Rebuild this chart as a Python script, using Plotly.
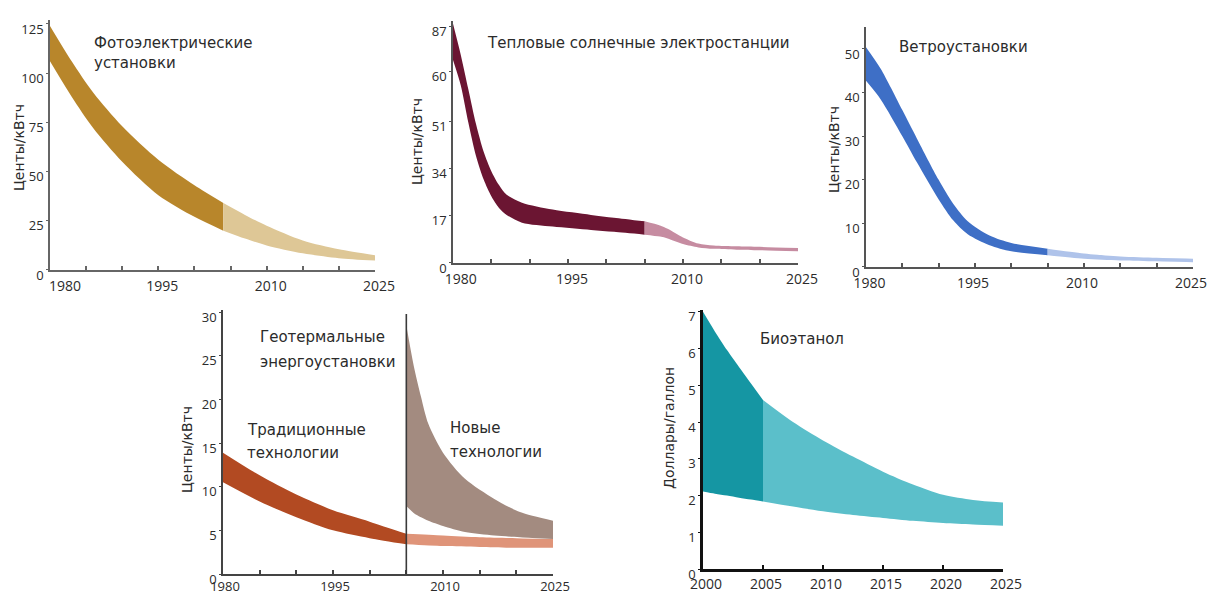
import plotly.graph_objects as go

FONT = "Open Sans"
LFONT = "DejaVu Sans"
TXT = "#2b2b2b"

# ---------------- data ----------------
# Panel 1: Фотоэлектрические установки (центы/кВтч)
pv_hist_years = [1980, 1983, 1986, 1990, 1995, 2000, 2004]
pv_hist_upper = [124, 106, 90, 73, 56, 43, 34]
pv_hist_lower = [106, 88, 72, 55, 38, 27, 20]
pv_proj_years = [2004, 2007, 2010, 2015, 2020, 2025]
pv_proj_upper = [34, 28, 22.5, 15, 10.5, 7.5]
pv_proj_lower = [20, 16, 12.5, 8.5, 6, 4.8]

# Panel 2: Тепловые солнечные электростанции
csp_hist_years = [1980, 1981, 1982, 1983, 1984, 1985, 1986, 1987, 1989, 1993, 1998, 2001, 2005]
csp_hist_upper = [86, 75, 62.5, 50, 40, 33, 28, 24.5, 21.7, 19.2, 17.3, 16.3, 15]
csp_hist_lower = [73, 64, 50.5, 38.5, 30, 24, 19.8, 17.3, 14.5, 13.1, 11.9, 11.2, 10.2]
csp_proj_years = [2005, 2007, 2008, 2010, 2012, 2014, 2017, 2020, 2025]
csp_proj_upper = [15, 13.5, 12.3, 9.2, 7.0, 6.3, 6.0, 5.8, 5.4]
csp_proj_lower = [10.2, 9.5, 8.8, 6.8, 5.6, 5.1, 4.8, 4.6, 4.2]
csp_tick_vals = [0, 17, 34, 51, 69, 85]
csp_tick_text = ["0", "17", "34", "51", "60", "87"]

# Panel 3: Ветроустановки
wind_hist_years = [1980, 1982, 1985, 1987, 1990, 1992, 1994, 1997, 2000, 2005]
wind_hist_upper = [50.4, 45.5, 36, 29.5, 20, 14.5, 10.5, 7.2, 5.5, 4.2]
wind_hist_lower = [42.7, 38.5, 30, 24, 15.5, 10.7, 7.5, 5, 3.6, 2.7]
wind_proj_years = [2005, 2010, 2015, 2020, 2025]
wind_proj_upper = [4.2, 3.1, 2.4, 2.1, 1.9]
wind_proj_lower = [2.7, 1.9, 1.5, 1.3, 1.1]

# Panel 4: Геотермальные энергоустановки
geo_trad_years = [1980, 1985, 1990, 1995, 2000, 2005]
geo_trad_upper = [13.9, 11.3, 9.1, 7.3, 6.0, 4.6]
geo_trad_lower = [10.5, 8.3, 6.5, 5.0, 4.1, 3.4]
geo_trad_proj_years = [2005, 2010, 2015, 2020, 2025]
geo_trad_proj_upper = [4.6, 4.4, 4.2, 4.1, 4.0]
geo_trad_proj_lower = [3.4, 3.2, 3.1, 3.0, 3.0]
geo_new_years = [2005, 2006, 2007, 2008, 2010, 2013, 2017, 2020.5, 2025]
geo_new_upper = [28.5, 23.9, 20.3, 17.2, 13.9, 10.9, 8.6, 7.1, 6.1]
geo_new_lower = [7.8, 7.0, 6.5, 6.1, 5.5, 4.8, 4.4, 4.2, 4.0]
geo_split_year = [2005, 2005]
geo_split_vals = [0, 29.8]

# Panel 5: Биоэтанол (доллары/галлон)
eth_hist_years = [2000, 2001, 2002, 2003, 2004, 2005]
eth_hist_upper = [7.0, 6.46, 5.96, 5.5, 5.05, 4.6]
eth_hist_lower = [2.11, 2.05, 2.0, 1.94, 1.89, 1.84]
eth_proj_years = [2005, 2007.5, 2010, 2012.5, 2015, 2017.5, 2020, 2022.5, 2025]
eth_proj_upper = [4.6, 4.0, 3.5, 3.06, 2.65, 2.3, 2.02, 1.88, 1.81]
eth_proj_lower = [1.84, 1.7, 1.57, 1.47, 1.39, 1.31, 1.25, 1.21, 1.18]

x_ticks_long = [1980, 1995, 2010, 2025]
x_text_long = ["\u00a0" * 6 + "1980", "1995", "2010", "2025"]
x_text_mid = ["\u00a0\u00a0" + "1980", "1995", "2010", "2025"]
x_text_wind = ["\u00a0\u00a0\u00a0" + "1980", "1995", "2010", "2025"]
x_text_plain = ["1980", "1995", "2010", "2025"]
x_ticks_eth = [2000, 2005, 2010, 2015, 2020, 2025]


def band(years, upper, lower, color, xa, ya):
    common = dict(x=years, mode="lines", xaxis=xa, yaxis=ya, showlegend=False,
                  hoverinfo="skip",
                  line=dict(width=0, shape="spline", smoothing=0.8))
    return [go.Scatter(y=lower, **common),
            go.Scatter(y=upper, fill="tonexty", fillcolor=color, **common)]


traces = []
traces += band(pv_hist_years, pv_hist_upper, pv_hist_lower, "#B8862B", "x", "y")
traces += band(pv_proj_years, pv_proj_upper, pv_proj_lower, "#DEC796", "x", "y")
traces += band(csp_hist_years, csp_hist_upper, csp_hist_lower, "#6B1532", "x2", "y2")
traces += band(csp_proj_years, csp_proj_upper, csp_proj_lower, "#C68CA1", "x2", "y2")
traces += band(wind_hist_years, wind_hist_upper, wind_hist_lower, "#3E6FC6", "x3", "y3")
traces += band(wind_proj_years, wind_proj_upper, wind_proj_lower, "#AFC3EA", "x3", "y3")
traces += band(geo_trad_years, geo_trad_upper, geo_trad_lower, "#B24A22", "x4", "y4")
traces += band(geo_trad_proj_years, geo_trad_proj_upper, geo_trad_proj_lower, "#DF9479", "x4", "y4")
traces += band(geo_new_years, geo_new_upper, geo_new_lower, "#A38B80", "x4", "y4")
traces.append(go.Scatter(x=geo_split_year, y=geo_split_vals, mode="lines", xaxis="x4", yaxis="y4",
                         line=dict(color="#3a3a3a", width=1.6), showlegend=False, hoverinfo="skip"))
traces += band(eth_hist_years, eth_hist_upper, eth_hist_lower, "#1596A3", "x5", "y5")
traces += band(eth_proj_years, eth_proj_upper, eth_proj_lower, "#5BBFCA", "x5", "y5")

fig = go.Figure(traces)


def xax(domain, anchor, rng, tickvals, ticktext, lc, lw, tick0, shift=4, standoff=1, fsize=14):
    return dict(domain=domain, anchor=anchor, range=rng, tickmode="array",
                tickvals=tickvals, ticktext=ticktext, ticks="inside", ticklen=4,
                tickcolor=lc, tickwidth=1.5, showline=True, linecolor=lc, linewidth=lw,
                showgrid=False, zeroline=False, layer="below traces", automargin=False,
                tickfont=dict(family=FONT, size=fsize, color=TXT), ticklabelshift=shift,
                ticklabelstandoff=standoff, ticklabeloverflow="allow",
                minor=dict(dtick=5, tick0=tick0, ticks="inside", ticklen=4, tickcolor=lc, tickwidth=1.5),
                fixedrange=True)


def yax(domain, anchor, rng, tickvals, ticktext, lc, lw):
    return dict(domain=domain, anchor=anchor, range=rng, tickmode="array",
                tickvals=tickvals, ticktext=ticktext, ticks="outside", ticklen=2,
                tickcolor=lc, showline=True, linecolor=lc, linewidth=lw,
                showgrid=False, zeroline=False, layer="below traces", automargin=False,
                tickfont=dict(family=FONT, size=13, color=TXT), ticklabelshift=5,
                ticklabeloverflow="allow",
                fixedrange=True)


fig.update_layout(
    template="none",
    width=1208, height=594, margin=dict(l=0, r=0, t=0, b=0, pad=0, autoexpand=False),
    paper_bgcolor="white", plot_bgcolor="rgba(0,0,0,0)",
    font=dict(family=FONT, color=TXT),
    showlegend=False,
    xaxis=xax([0.04139, 0.31043], "y", [1980, 2025], x_ticks_long, x_text_long, "#666666", 1.5, 1980,
              standoff=2),
    yaxis=yax([0.54545, 0.96633], "x", [0, 127], [0, 25, 50, 75, 100, 125],
              ["0", "25", "50", "75", "100", "125"], "#666666", 1.5),
    xaxis2=xax([0.37500, 0.66060], "y2", [1980, 2025], x_ticks_long, x_text_mid, "#555555", 1.5, 1980,
               standoff=2),
    yaxis2=yax([0.55724, 0.96465], "x2", [0, 87], csp_tick_vals, csp_tick_text, "#555555", 1.5),
    xaxis3=xax([0.71689, 0.98758], "y3", [1980, 2025], x_ticks_long, x_text_wind, "#555555", 1.5, 1980,
               shift=-2, standoff=2),
    yaxis3=yax([0.55051, 0.95421], "x3", [0, 55], [0, 10, 20, 30, 40, 50],
               ["0", "10", "20", "30", "40", "50"], "#555555", 1.5),
    xaxis4=xax([0.18460, 0.45778], "y4", [1980, 2025], x_ticks_long, x_text_plain, "#444444", 1.5, 1980,
               shift=2, standoff=0, fsize=13),
    yaxis4=yax([0.03367, 0.47744], "x4", [0, 30.2], [0, 5, 10, 15, 20, 25, 30],
               ["0", "5", "10", "15", "20", "25", "30"], "#444444", 1.5),
    xaxis5=xax([0.58195, 0.83030], "y5", [2000, 2025], x_ticks_eth,
               ["2000", "2005", "2010", "2015", "2020", "2025"], "#111111", 2.5, 2000,
               shift=3, standoff=0),
    yaxis5=yax([0.04209, 0.47811], "x5", [0, 7.05], [0, 1, 2, 3, 4, 5, 6, 7],
               ["0", "1", "2", "3", "4", "5", "6", "7"], "#111111", 2.5),
)


def px(x):
    return x / 1208.0


def py(y):
    return 1 - y / 594.0


labels = [
    ("Фотоэлектрические", 92, 43),
    ("установки", 92, 63),
    ("Тепловые солнечные электростанции", 485, 43),
    ("Ветроустановки", 897, 47),
    ("Геотермальные", 258, 337),
    ("энергоустановки", 258, 362),
    ("Традиционные", 245, 430),
    ("технологии", 245, 453),
    ("Новые", 448, 428),
    ("технологии", 448, 452),
    ("Биоэтанол", 758, 339),
]
ann = []
for t, x, y in labels:
    ann.append(dict(text=t, x=px(x), y=py(y), xref="paper", yref="paper",
                    xanchor="left", yanchor="middle", showarrow=False,
                    font=dict(family=LFONT, size=15, color=TXT)))

ytitles = [
    ("Центы/кВтч", 19, 148),
    ("Центы/кВтч", 417, 142),
    ("Центы/кВтч", 834, 150),
    ("Центы/кВтч", 187, 450),
    ("Доллары/галлон", 669, 428),
]
for t, x, y in ytitles:
    ann.append(dict(text=t, x=px(x), y=py(y), xref="paper", yref="paper",
                    xanchor="center", yanchor="middle", showarrow=False, textangle=-90,
                    font=dict(family=LFONT, size=14, color=TXT)))

fig.update_layout(annotations=ann)

fig.write_html(
    "out.html", config={"displayModeBar": False},
    post_script=("document.documentElement.style.margin='0';"
                 "document.documentElement.style.overflow='hidden';"
                 "document.body.style.margin='0';"
                 "document.body.style.overflow='hidden';"))
